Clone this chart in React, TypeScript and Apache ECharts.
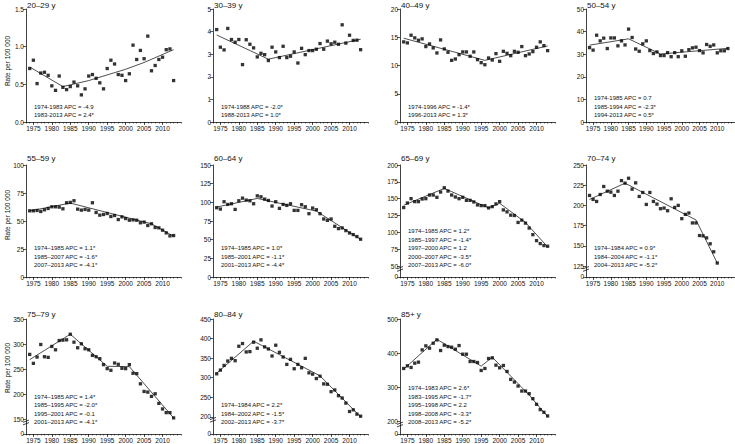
import React, { useEffect, useRef } from 'react';
import * as echarts from 'echarts';

const YEARS = [1974, 1975, 1976, 1977, 1978, 1979, 1980, 1981, 1982, 1983, 1984, 1985, 1986, 1987, 1988, 1989, 1990, 1991, 1992, 1993, 1994, 1995, 1996, 1997, 1998, 1999, 2000, 2001, 2002, 2003, 2004, 2005, 2006, 2007, 2008, 2009, 2010, 2011, 2012, 2013];
const LABEL_YEARS = [1975, 1980, 1985, 1990, 1995, 2000, 2005, 2010];

const rate2029 = [0.71, 0.82, 0.51, 0.65, 0.66, 0.62, 0.48, 0.42, 0.61, 0.46, 0.43, 0.47, 0.53, 0.48, 0.36, 0.44, 0.61, 0.63, 0.58, 0.52, 0.44, 0.71, 0.82, 0.77, 0.63, 0.62, 0.55, 0.64, 1.02, 0.83, 0.95, 0.84, 1.14, 0.68, 0.75, 0.83, 0.86, 0.96, 0.97, 0.55];
const fit2029 = [[1974, 0.73], [1983, 0.47], [1990, 0.55], [2000, 0.70], [2005, 0.79], [2013, 0.96]];

const rate3039 = [4.09, 3.31, 3.19, 4.14, 3.65, 3.53, 3.65, 2.54, 3.64, 3.44, 3.28, 2.88, 3.04, 2.98, 2.72, 3.31, 3.10, 2.85, 3.35, 2.85, 2.91, 3.10, 2.61, 3.26, 2.98, 3.16, 3.16, 3.22, 3.47, 3.22, 3.58, 3.46, 3.53, 3.44, 4.30, 3.49, 3.84, 3.61, 3.62, 3.20];
const fit3039 = [[1974, 3.85], [1988, 2.78], [2013, 3.66]];

const rate4049 = [14.18, 14.0, 15.36, 14.89, 14.47, 14.71, 13.35, 13.82, 13.11, 12.22, 14.53, 12.93, 12.34, 10.91, 11.15, 11.92, 12.4, 12.4, 11.63, 12.4, 11.03, 10.5, 10.14, 11.33, 10.97, 12.1, 10.74, 12.51, 12.16, 11.74, 12.51, 12.34, 13.35, 11.74, 12.04, 12.46, 13.23, 14.18, 13.52, 12.63];
const fit4049 = [[1974, 14.83], [1996, 10.91], [2013, 13.46]];

const rate5054 = [32.9, 31.8, 38.4, 35.9, 37.1, 32.5, 37.2, 37.2, 33.7, 35.9, 34.1, 41.1, 37.4, 32.3, 31.3, 34.6, 35.9, 31.6, 30.3, 31.0, 29.4, 29.4, 30.7, 28.9, 30.7, 28.9, 31.5, 29.1, 32.0, 32.8, 33.1, 31.6, 30.6, 34.3, 33.5, 34.1, 30.6, 31.5, 31.5, 32.5];
const fit5054 = [[1974, 34.0], [1985, 36.8], [1994, 30.1], [2013, 32.6]];

const rate5559 = [59.1, 59.1, 59.4, 58.5, 60.0, 61.2, 62.7, 62.7, 62.4, 60.9, 66.3, 66.6, 68.1, 60.6, 59.7, 60.3, 59.7, 66.3, 57.6, 55.2, 55.8, 56.7, 54.0, 54.9, 51.3, 53.7, 52.2, 50.7, 51.0, 50.7, 48.4, 49.0, 46.0, 47.5, 44.2, 43.9, 41.8, 39.4, 36.7, 37.0];
const fit5559 = [[1974, 59.0], [1985, 66.0], [2007, 47.5], [2013, 36.4]];

const rate6064 = [92.8, 91.0, 100.8, 97.2, 98.1, 90.5, 102.1, 105.6, 103.0, 102.1, 98.1, 108.7, 107.4, 104.3, 102.5, 95.0, 100.8, 91.9, 97.2, 95.9, 98.1, 89.2, 89.2, 96.8, 94.1, 84.8, 92.3, 90.1, 84.8, 77.7, 75.9, 77.7, 67.9, 64.8, 65.7, 62.1, 59.0, 56.8, 54.2, 50.6];
const fit6064 = [[1974, 93.7], [1985, 105.2], [2001, 88.3], [2013, 50.2]];

const rate6569 = [136.8, 143.6, 150.0, 145.6, 145.6, 149.5, 150.0, 155.4, 155.4, 152.0, 159.8, 166.2, 161.3, 155.4, 152.5, 150.0, 152.0, 147.5, 147.5, 145.1, 140.7, 139.7, 139.7, 136.3, 138.2, 142.2, 145.6, 133.3, 130.4, 125.5, 125.0, 114.7, 118.1, 113.7, 106.4, 96.6, 87.7, 83.3, 80.4, 79.4];
const fit6569 = [[1974, 140.2], [1985, 165.2], [1997, 136.3], [2000, 143.1], [2007, 114.7], [2013, 78.4]];

const rate7074 = [212.3, 207.4, 204.9, 213.5, 223.4, 217.6, 216.4, 212.3, 217.6, 230.7, 227.5, 233.6, 220.1, 227.9, 211.1, 216.0, 201.2, 216.0, 204.9, 201.6, 195.9, 196.7, 193.4, 208.2, 197.5, 200.0, 183.6, 188.9, 190.6, 178.3, 178.3, 162.7, 162.3, 159.8, 152.5, 142.6, 128.7];
const fit7074 = [[1974, 207.4], [1984, 227.5], [2004, 182.0], [2010, 128.7]];

const rate7579 = [279.6, 261.8, 274.3, 299.3, 275.0, 273.7, 295.4, 288.8, 307.2, 307.9, 308.6, 319.7, 303.9, 292.8, 300.7, 290.8, 288.8, 277.6, 275.0, 271.1, 259.2, 251.3, 248.0, 262.5, 259.9, 252.0, 251.3, 259.2, 242.1, 241.4, 221.1, 205.9, 204.6, 196.1, 201.3, 182.2, 171.1, 163.8, 163.8, 153.3];
const fit7579 = [[1974, 269.1], [1985, 319.7], [1995, 255.9], [2001, 255.3], [2013, 153.3]];

const rate8084 = [310.0, 319.4, 331.4, 342.6, 349.5, 343.5, 380.4, 387.3, 365.8, 366.7, 390.7, 375.3, 396.7, 378.7, 373.5, 355.5, 383.0, 364.9, 352.9, 334.0, 346.9, 322.9, 334.0, 325.4, 349.5, 312.5, 309.1, 297.9, 303.9, 284.2, 283.3, 264.4, 268.7, 254.1, 248.1, 235.2, 213.7, 218.0, 206.9, 201.7];
const fit8084 = [[1974, 311.7], [1984, 393.3], [2002, 304.8], [2013, 200.0]];

const rate85 = [355.3, 363.1, 358.3, 370.9, 373.8, 409.7, 421.4, 414.6, 429.1, 438.8, 407.8, 423.3, 419.4, 417.5, 411.7, 422.3, 397.1, 397.1, 375.7, 375.7, 372.8, 349.5, 355.3, 384.5, 386.4, 365.0, 357.3, 364.1, 346.6, 323.3, 315.5, 303.9, 289.3, 289.3, 281.6, 267.0, 250.5, 235.0, 227.2, 216.5];
const fit85 = [[1974, 353.4], [1983, 440.8], [1995, 362.1], [1998, 388.3], [2008, 277.7], [2013, 214.6]];

const apc2029 = ['1974-1983 APC = -4.9', '1983-2013 APC = 2.4*'];
const apc3039 = ['1974-1988 APC = -2.0*', '1988-2013 APC = 1.0*'];
const apc4049 = ['1974-1996 APC = -1.4*', '1996-2013 APC = 1.3*'];
const apc5054 = ['1974-1985 APC = 0.7', '1985-1994 APC = -2.3*', '1994-2013 APC = 0.5*'];
const apc5559 = ['1974–1985 APC = 1.1*', '1985–2007 APC = -1.6*', '2007–2013 APC = -4.1*'];
const apc6064 = ['1974–1985 APC = 1.0*', '1985–2001 APC = -1.1*', '2001–2013 APC = -4.4*'];
const apc6569 = ['1974–1985 APC = 1.2*', '1985–1997 APC = -1.4*', '1997–2000 APC = 1.2', '2000–2007 APC = -3.5*', '2007–2013 APC = -6.0*'];
const apc7074 = ['1974–1984 APC = 0.9*', '1984–2004 APC = -1.1*', '2004–2013 APC = -5.2*'];
const apc7579 = ['1974–1985 APC = 1.4*', '1985–1995 APC = -2.0*', '1995–2001 APC = -0.1', '2001–2013 APC = -4.1*'];
const apc8084 = ['1974–1984 APC = 2.2*', '1984–2002 APC = -1.5*', '2002–2013 APC = -3.7*'];
const apc85 = ['1974–1983 APC = 2.6*', '1983–1995 APC = -1.7*', '1995–1998 APC = 2.2', '1998–2008 APC = -3.3*', '2008–2013 APC = -5.2*'];

// y-axis settings: max, interval, lowest tick above the break (0 = no break), value where "0" is drawn
const panels = [
  { title: '20–29 y', rates: rate2029, fit: fit2029, apc: apc2029, max: 1.5, step: 0.5, low: 0, bmin: 0, dec: 1 },
  { title: '30–39 y', rates: rate3039, fit: fit3039, apc: apc3039, max: 5, step: 1, low: 0, bmin: 0, dec: 0 },
  { title: '40–49 y', rates: rate4049, fit: fit4049, apc: apc4049, max: 20, step: 5, low: 0, bmin: 0, dec: 0 },
  { title: '50–54 y', rates: rate5054, fit: fit5054, apc: apc5054, max: 50, step: 10, low: 0, bmin: 0, dec: 0 },
  { title: '55–59 y', rates: rate5559, fit: fit5559, apc: apc5559, max: 100, step: 25, low: 0, bmin: 0, dec: 0 },
  { title: '60–64 y', rates: rate6064, fit: fit6064, apc: apc6064, max: 150, step: 25, low: 0, bmin: 0, dec: 0 },
  { title: '65–69 y', rates: rate6569, fit: fit6569, apc: apc6569, max: 200, step: 25, low: 50, bmin: 33.7, dec: 0 },
  { title: '70–74 y', rates: rate7074, fit: fit7074, apc: apc7074, max: 250, step: 25, low: 125, bmin: 111.4, dec: 0 },
  { title: '75–79 y', rates: rate7579, fit: fit7579, apc: apc7579, max: 350, step: 50, low: 150, bmin: 121.3, dec: 0 },
  { title: '80–84 y', rates: rate8084, fit: fit8084, apc: apc8084, max: 450, step: 50, low: 200, bmin: 156.2, dec: 0 },
  { title: '85+ y', rates: rate85, fit: fit85, apc: apc85, max: 500, step: 100, low: 200, bmin: 163.7, dec: 0 },
];

const COL_LEFT = [26, 213, 400, 586];
const PLOT_W = 155;
const ROW_TOP = [9, 165, 319];
const ROW_H = [113, 112, 115];
const TITLE_Y = [5, 158, 314];
const NAME_Y = [61, 215, 368];
const FONT = 'Liberation Sans, Arial, sans-serif';
const INK = '#111';

export default function App() {
  const ref = useRef<HTMLDivElement>(null);
  useEffect(() => {
    if (!ref.current) return;
    const chart = echarts.init(ref.current, undefined, { renderer: 'svg' });
    const grid: any[] = [];
    const xAxis: any[] = [];
    const yAxis: any[] = [];
    const series: any[] = [];
    const graphic: any[] = [];

    panels.forEach((p, i) => {
      const row = Math.floor(i / 4);
      const col = i % 4;
      const left = COL_LEFT[col];
      const top = ROW_TOP[row];
      const h = ROW_H[row];
      const bottom = top + h;
      grid.push({ left, top, width: PLOT_W, height: h, containLabel: false });

      xAxis.push({
        gridIndex: i, type: 'value', min: 1973, max: 2015, interval: 1,
        axisLine: { show: true, onZero: false, lineStyle: { color: INK, width: 0.8 } },
        axisTick: { show: true, length: 1.5, lineStyle: { color: INK, width: 0.6 } },
        axisLabel: {
          customValues: LABEL_YEARS, fontSize: 6.5, color: INK, margin: 3, fontFamily: FONT,
          formatter: (v: number) => String(Math.round(v)),
        },
        splitLine: { show: false },
      });
      xAxis.push({
        gridIndex: i, type: 'value', min: 1973, max: 2015, position: 'bottom',
        axisLine: { show: false, onZero: false },
        axisTick: { show: true, customValues: LABEL_YEARS, length: 3, lineStyle: { color: INK, width: 0.7 } },
        axisLabel: { show: false },
        splitLine: { show: false },
      });

      const yBase: any = {
        gridIndex: i, type: 'value', max: p.max,
        axisLine: { show: true, onZero: false, lineStyle: { color: INK, width: 0.8 } },
        splitLine: { show: false },
      };
      if (p.low > 0) {
        const vals: number[] = [p.bmin + 0.05];
        for (let v = p.low; v <= p.max + 1e-9; v += p.step) vals.push(v);
        yBase.min = p.bmin;
        yBase.axisTick = { show: true, customValues: vals, length: 3, lineStyle: { color: INK, width: 0.7 } };
        yBase.axisLabel = {
          customValues: vals, showMinLabel: true, hideOverlap: false,
          fontSize: 6.5, color: INK, margin: 2, fontFamily: FONT,
          formatter: (v: number) => (v < p.low ? '0' : String(v)),
        };
        const ax = left;
        const yLow = top + ((p.max - p.low) / (p.max - p.bmin)) * h + 2.5;
        graphic.push({ type: 'line', z: 100, shape: { x1: ax - 3, y1: yLow + 0.3, x2: ax + 3, y2: yLow - 2 }, style: { stroke: INK, lineWidth: 0.8 } });
        graphic.push({ type: 'line', z: 100, shape: { x1: ax - 3, y1: yLow + 2.8, x2: ax + 3, y2: yLow + 0.5 }, style: { stroke: INK, lineWidth: 0.8 } });
      } else {
        yBase.min = 0;
        yBase.interval = p.step;
        yBase.axisTick = { show: true, length: 3, lineStyle: { color: INK, width: 0.7 } };
        yBase.axisLabel = {
          showMinLabel: true, fontSize: 6.5, color: INK, margin: 2, fontFamily: FONT,
          formatter: (v: number) => v.toFixed(p.dec),
        };
      }
      yAxis.push(yBase);

      const yrs = YEARS.slice(0, p.rates.length);
      series.push({
        type: 'line', xAxisIndex: i * 2, yAxisIndex: i, data: p.fit,
        showSymbol: false, symbol: 'none', lineStyle: { color: '#222', width: 0.8 }, z: 2, silent: true,
      });
      series.push({
        type: 'scatter', xAxisIndex: i * 2, yAxisIndex: i,
        data: p.rates.map((v, k) => [yrs[k], v]),
        symbol: 'rect', symbolSize: 3.3, itemStyle: { color: '#000' }, z: 3, silent: true,
      });

      graphic.push({
        type: 'text', left: left + 1, top: TITLE_Y[row] - 4,
        style: { text: p.title, fontSize: 8, fill: INK, fontFamily: FONT },
      });
      const gap = row === 0 ? 2.75 : 7.75;
      graphic.push({
        type: 'text', x: left + 8, y: bottom - gap,
        style: {
          text: p.apc.join('\n'), fontSize: 6, lineHeight: 8.5, fill: INK, fontFamily: FONT,
          align: 'left', verticalAlign: 'bottom',
        },
      });
      if (col === 0) {
        graphic.push({
          type: 'text', x: 7, y: NAME_Y[row], rotation: Math.PI / 2,
          style: { text: 'Rate per 100 000', fontSize: 6.5, fill: INK, fontFamily: FONT, align: 'center', verticalAlign: 'middle' },
        });
      }
    });

    chart.setOption({
      animation: false,
      backgroundColor: '#fff',
      grid, xAxis, yAxis, series, graphic,
    });
    return () => chart.dispose();
  }, []);
  return <div ref={ref} style={{ position: 'fixed', left: 0, top: 0, width: 735, height: 444 }} />;
}
